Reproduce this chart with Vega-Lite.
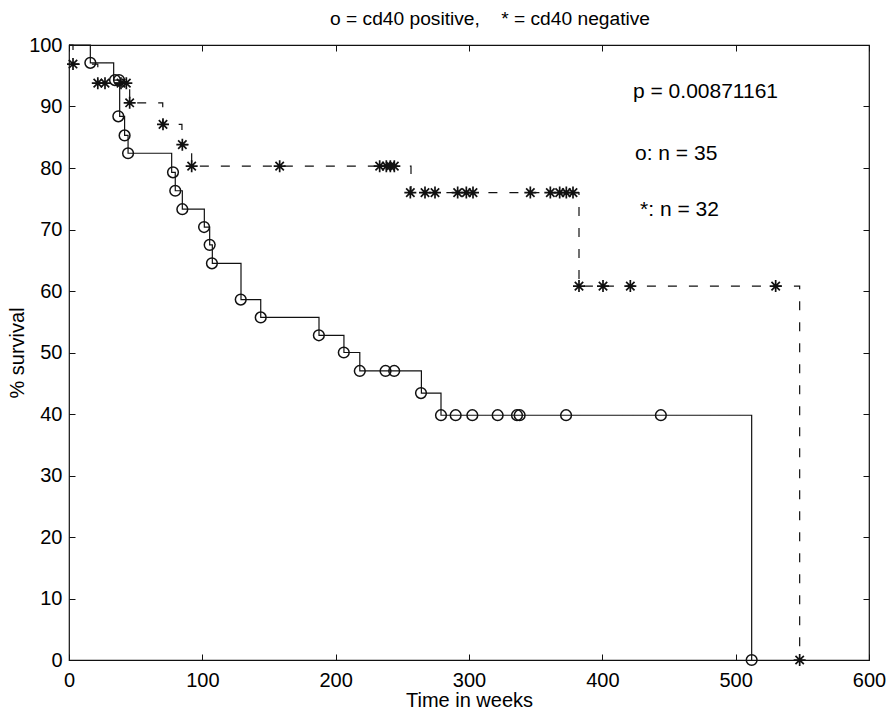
{
  "$schema": "https://vega.github.io/schema/vega-lite/v6.json",
  "width": 800,
  "height": 615,
  "autosize": "none",
  "padding": {"left": 69, "top": 45, "right": 21, "bottom": 50},
  "background": "white",
  "title": {
    "text": "o = cd40 positive,\u00a0\u00a0\u00a0\u00a0* = cd40 negative",
    "font": "Liberation Sans",
    "fontSize": 19.2,
    "fontWeight": "normal",
    "color": "#000",
    "anchor": "middle",
    "frame": "group",
    "baseline": "alphabetic",
    "offset": 19,
    "dy": 28,
    "dx": 21
  },
  "config": {
    "view": {"stroke": "#111", "strokeWidth": 1.2},
    "font": "Liberation Sans",
    "axis": {
      "grid": false,
      "domain": false,
      "tickSize": -6,
      "tickColor": "#111",
      "tickWidth": 1,
      "labelFont": "Liberation Sans",
      "labelFontSize": 20,
      "labelColor": "#000",
      "labelFlush": false,
      "labelOverlap": false,
      "titleFont": "Liberation Sans",
      "titleFontSize": 20,
      "titleFontWeight": "normal",
      "titleColor": "#000"
    }
  },
  "datasets": {
    "steps": [
      {"group": "cd40 positive", "t": 0, "s": 100},
      {"group": "cd40 positive", "t": 16, "s": 97.1},
      {"group": "cd40 positive", "t": 33.5, "s": 94.3},
      {"group": "cd40 positive", "t": 38, "s": 88.4},
      {"group": "cd40 positive", "t": 41.7, "s": 85.3},
      {"group": "cd40 positive", "t": 44.3, "s": 82.4},
      {"group": "cd40 positive", "t": 77, "s": 79.3},
      {"group": "cd40 positive", "t": 79.7, "s": 76.3},
      {"group": "cd40 positive", "t": 85, "s": 73.3},
      {"group": "cd40 positive", "t": 101.5, "s": 70.4},
      {"group": "cd40 positive", "t": 105.5, "s": 67.5},
      {"group": "cd40 positive", "t": 107.5, "s": 64.5},
      {"group": "cd40 positive", "t": 129, "s": 58.6},
      {"group": "cd40 positive", "t": 143.8, "s": 55.7},
      {"group": "cd40 positive", "t": 187.5, "s": 52.8},
      {"group": "cd40 positive", "t": 206.2, "s": 50.0},
      {"group": "cd40 positive", "t": 218.1, "s": 47.0},
      {"group": "cd40 positive", "t": 264.3, "s": 43.4},
      {"group": "cd40 positive", "t": 279, "s": 39.8},
      {"group": "cd40 positive", "t": 512, "s": 0},
      {"group": "cd40 negative", "t": 0, "s": 100},
      {"group": "cd40 negative", "t": 3, "s": 96.9},
      {"group": "cd40 negative", "t": 21.6, "s": 93.8},
      {"group": "cd40 negative", "t": 45.5, "s": 90.6},
      {"group": "cd40 negative", "t": 70.3, "s": 87.1},
      {"group": "cd40 negative", "t": 84.7, "s": 83.8},
      {"group": "cd40 negative", "t": 92, "s": 80.3},
      {"group": "cd40 negative", "t": 256.5, "s": 76.0},
      {"group": "cd40 negative", "t": 382.5, "s": 60.8},
      {"group": "cd40 negative", "t": 548, "s": 0}
    ],
    "marks": [
      {"group": "cd40 positive", "t": 16, "s": 97.1},
      {"group": "cd40 positive", "t": 34.5, "s": 94.3},
      {"group": "cd40 positive", "t": 37.5, "s": 94.3},
      {"group": "cd40 positive", "t": 37, "s": 88.4},
      {"group": "cd40 positive", "t": 41.7, "s": 85.3},
      {"group": "cd40 positive", "t": 44.3, "s": 82.4},
      {"group": "cd40 positive", "t": 78, "s": 79.3},
      {"group": "cd40 positive", "t": 79.7, "s": 76.3},
      {"group": "cd40 positive", "t": 85, "s": 73.3},
      {"group": "cd40 positive", "t": 101.3, "s": 70.4},
      {"group": "cd40 positive", "t": 105.5, "s": 67.5},
      {"group": "cd40 positive", "t": 107.2, "s": 64.5},
      {"group": "cd40 positive", "t": 128.8, "s": 58.6},
      {"group": "cd40 positive", "t": 143.8, "s": 55.7},
      {"group": "cd40 positive", "t": 187.4, "s": 52.8},
      {"group": "cd40 positive", "t": 206.1, "s": 50.0},
      {"group": "cd40 positive", "t": 218.1, "s": 47.0},
      {"group": "cd40 positive", "t": 237.4, "s": 47.0},
      {"group": "cd40 positive", "t": 243.9, "s": 47.0},
      {"group": "cd40 positive", "t": 264, "s": 43.4},
      {"group": "cd40 positive", "t": 279, "s": 39.8},
      {"group": "cd40 positive", "t": 290, "s": 39.8},
      {"group": "cd40 positive", "t": 302.5, "s": 39.8},
      {"group": "cd40 positive", "t": 321.5, "s": 39.8},
      {"group": "cd40 positive", "t": 336, "s": 39.8},
      {"group": "cd40 positive", "t": 338, "s": 39.8},
      {"group": "cd40 positive", "t": 372.8, "s": 39.8},
      {"group": "cd40 positive", "t": 443.9, "s": 39.8},
      {"group": "cd40 positive", "t": 512, "s": 0},
      {"group": "cd40 negative", "t": 3, "s": 96.9},
      {"group": "cd40 negative", "t": 21.6, "s": 93.8},
      {"group": "cd40 negative", "t": 27, "s": 93.8},
      {"group": "cd40 negative", "t": 39, "s": 93.8},
      {"group": "cd40 negative", "t": 43, "s": 93.8},
      {"group": "cd40 negative", "t": 45.5, "s": 90.6},
      {"group": "cd40 negative", "t": 70.5, "s": 87.1},
      {"group": "cd40 negative", "t": 85, "s": 83.8},
      {"group": "cd40 negative", "t": 92, "s": 80.3},
      {"group": "cd40 negative", "t": 158, "s": 80.3},
      {"group": "cd40 negative", "t": 233, "s": 80.3},
      {"group": "cd40 negative", "t": 238, "s": 80.3},
      {"group": "cd40 negative", "t": 241, "s": 80.3},
      {"group": "cd40 negative", "t": 244, "s": 80.3},
      {"group": "cd40 negative", "t": 256, "s": 76.0},
      {"group": "cd40 negative", "t": 267, "s": 76.0},
      {"group": "cd40 negative", "t": 274.5, "s": 76.0},
      {"group": "cd40 negative", "t": 291.5, "s": 76.0},
      {"group": "cd40 negative", "t": 298, "s": 76.0},
      {"group": "cd40 negative", "t": 303, "s": 76.0},
      {"group": "cd40 negative", "t": 346, "s": 76.0},
      {"group": "cd40 negative", "t": 361, "s": 76.0},
      {"group": "cd40 negative", "t": 368, "s": 76.0},
      {"group": "cd40 negative", "t": 373, "s": 76.0},
      {"group": "cd40 negative", "t": 378, "s": 76.0},
      {"group": "cd40 negative", "t": 382.5, "s": 60.8},
      {"group": "cd40 negative", "t": 400.5, "s": 60.8},
      {"group": "cd40 negative", "t": 421, "s": 60.8},
      {"group": "cd40 negative", "t": 530, "s": 60.8},
      {"group": "cd40 negative", "t": 548, "s": 0}
    ],
    "notes": [
      {"t": 423, "s": 92.3, "label": "p = 0.00871161"},
      {"t": 424.5, "s": 82.2, "label": "o: n = 35"},
      {"t": 428.3, "s": 73.2, "label": "*: n = 32"}
    ]
  },
  "layer": [
    {
      "data": {"name": "steps"},
      "mark": {"type": "line", "interpolate": "step-after", "strokeWidth": 1.2, "color": "#111"},
      "encoding": {
        "x": {"field": "t", "type": "quantitative", "scale": {"domain": [0, 600], "nice": false},
              "axis": {"orient": "bottom", "values": [0, 100, 200, 300, 400, 500, 600], "labelPadding": 16, "title": "Time in weeks", "titlePadding": 0}},
        "y": {"field": "s", "type": "quantitative", "scale": {"domain": [0, 100], "nice": false},
              "axis": {"orient": "left", "values": [0, 10, 20, 30, 40, 50, 60, 70, 80, 90, 100], "labelPadding": 13, "title": "% survival", "titlePadding": 1}},
        "detail": {"field": "group"},
        "strokeDash": {"field": "group", "type": "nominal",
                       "scale": {"domain": ["cd40 positive", "cd40 negative"], "range": [[1, 0], [9, 12]]}, "legend": null}
      }
    },
    {
      "data": {"name": "marks"},
      "transform": [{"filter": "datum.group === 'cd40 positive'"}],
      "mark": {"type": "point", "shape": "circle", "filled": false, "size": 115, "strokeWidth": 1.5, "color": "#111", "opacity": 1},
      "encoding": {
        "x": {"field": "t", "type": "quantitative",
              "axis": {"orient": "top", "values": [0, 100, 200, 300, 400, 500, 600], "labels": false, "title": null}},
        "y": {"field": "s", "type": "quantitative",
              "axis": {"orient": "right", "values": [0, 10, 20, 30, 40, 50, 60, 70, 80, 90, 100], "labels": false, "title": null}}
      }
    },
    {
      "data": {"name": "marks"},
      "transform": [{"filter": "datum.group === 'cd40 negative'"}],
      "mark": {"type": "point", "shape": "M-1,0L1,0M0,-1L0,1M-0.7,-0.7L0.7,0.7M-0.7,0.7L0.7,-0.7", "filled": false, "size": 144, "strokeWidth": 1.7, "color": "#111", "opacity": 1},
      "encoding": {
        "x": {"field": "t", "type": "quantitative", "axis": null},
        "y": {"field": "s", "type": "quantitative", "axis": null}
      }
    },
    {
      "data": {"name": "notes"},
      "mark": {"type": "text", "align": "left", "baseline": "middle", "fontSize": 21, "font": "Liberation Sans", "color": "#000"},
      "encoding": {
        "x": {"field": "t", "type": "quantitative", "axis": null},
        "y": {"field": "s", "type": "quantitative", "axis": null},
        "text": {"field": "label"}
      }
    }
  ],
  "resolve": {"axis": {"x": "independent", "y": "independent"}}
}
